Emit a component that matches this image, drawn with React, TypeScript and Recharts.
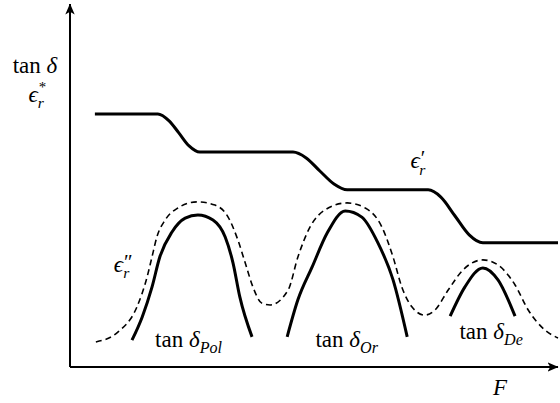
import React from 'react';
import { LineChart, Line, XAxis, YAxis, ReferenceDot } from 'recharts';

// Frequency F on 0..100, response on 0..100 (arbitrary units)
const realF = [5.1, 18.0, 20.3, 22.3, 24.4, 26.6, 45.7, 48.4, 51.2, 54.1, 56.8, 73.4, 76.0, 78.9, 81.8, 84.6, 100];
const realV = [69.7, 69.7, 67.8, 64.5, 60.9, 59.2, 59.2, 57.6, 54.0, 50.4, 48.8, 48.8, 46.8, 41.6, 36.4, 34.2, 34.2];

const lossF = [5.3, 9.8, 13.7, 15.8, 16.8, 17.8, 19.5, 22.1, 26.0, 29.7, 32.4, 34.4, 35.9, 37.5, 39.3, 41.0, 44.7, 46.7, 49.2, 52.3, 56.8, 60.5, 63.9, 66.2, 68.0, 70.1, 72.7, 74.8, 77.5, 80.5, 84.6, 87.7, 91.2, 93.9, 97.3, 100];
const lossV = [6.9, 9.6, 16.5, 24.8, 30.3, 35.8, 40.5, 43.8, 45.5, 44.6, 41.3, 35.0, 28.7, 22.0, 17.6, 17.1, 21.2, 30.3, 38.6, 43.3, 45.2, 43.8, 38.6, 30.3, 22.0, 16.5, 14.3, 15.7, 21.2, 26.7, 29.5, 28.1, 22.6, 15.7, 10.2, 8.0];

const polF = [12.7, 14.8, 16.8, 18.4, 20.9, 23.6, 26.2, 29.3, 31.8, 33.4, 34.8, 37.3];
const polV = [7.4, 13.8, 22.0, 30.3, 37.2, 41.0, 41.9, 40.5, 35.8, 28.7, 19.3, 8.3];

const orF = [44.5, 46.7, 49.6, 52.7, 56.4, 59.8, 63.1, 66.2, 69.1];
const orV = [8.3, 18.5, 27.5, 36.9, 43.0, 41.3, 34.2, 24.0, 8.3];

const deF = [77.9, 80.9, 84.6, 87.7, 91.2];
const deV = [14.0, 22.0, 27.3, 24.0, 14.0];

const toRows = (f: number[], v: number[]) => f.map((x, i) => ({ f: x, v: v[i] }));

const FONT = 'Liberation Serif';
const FS = 23;
const txt = { fontFamily: FONT, fontSize: FS, fill: '#000' };

// tan δ with optional italic subscript, centred on x, baseline y
const TanDelta = ({ x, y, sub }: { x: number; y: number; sub?: string }) => (
  <text x={x} y={y} textAnchor="middle" style={txt}>
    <tspan>tan </tspan>
    <tspan style={{ fontStyle: 'italic' }}>δ</tspan>
    {sub && (
      <tspan style={{ fontStyle: 'italic', fontSize: FS * 0.7 }} dy={FS * 0.28}>
        {sub}
      </tspan>
    )}
  </text>
);

// ϵ with a superscript mark stacked over the subscript r
const Eps = ({ x, y, sup }: { x: number; y: number; sup: string }) => {
  const star = sup === '*';
  const supSize = star ? 0.65 : 0.9;
  const supDy = star ? -0.45 : -0.12;
  const supW = star ? FS * 0.33 + 1 : sup === '″' ? FS * 0.36 + 1 : FS * 0.22 + 1;
  return (
    <text x={x - FS * 0.37} y={y} style={txt}>
      <tspan style={{ fontStyle: 'italic' }}>ϵ</tspan>
      <tspan style={{ fontSize: FS * supSize }} dx={1} dy={FS * supDy}>{sup}</tspan>
      <tspan style={{ fontStyle: 'italic', fontSize: FS * 0.68 }} dx={-supW} dy={FS * (0.28 - supDy)}>r</tspan>
    </text>
  );
};

const dotLabel = (render: (x: number, y: number) => React.ReactNode) => ({
  content: (p: any) => render(p.viewBox.x, p.viewBox.y),
});

export default function App() {
  return (
    <div style={{ position: 'absolute', left: 0, top: 0, background: '#fff' }}>
      <LineChart width={560} height={403} margin={{ top: 4, right: 2, bottom: 0, left: 0 }}>
        <defs>
          <marker
            id="arrowHead"
            viewBox="0 0 11 11"
            refX={10.5}
            refY={5.5}
            markerWidth={11}
            markerHeight={11}
            markerUnits="userSpaceOnUse"
            orient="auto-start-reverse"
          >
            <path d="M0,0.8 L11,5.5 L0,10.2 L2.8,5.5 Z" fill="#000" />
          </marker>
        </defs>
        <XAxis
          type="number"
          dataKey="f"
          domain={[0, 100]}
          height={36}
          tick={false}
          tickLine={false}
          axisLine={{ stroke: '#000', strokeWidth: 2, markerEnd: 'url(#arrowHead)' }}
          label={{
            content: (p: any) => (
              <text
                x={p.viewBox.x + 430}
                y={p.viewBox.y + 28}
                textAnchor="middle"
                style={{ ...txt, fontStyle: 'italic' }}
              >
                F
              </text>
            ),
          }}
        />
        <YAxis
          type="number"
          dataKey="v"
          domain={[0, 100]}
          width={70}
          tick={false}
          tickLine={false}
          axisLine={{ stroke: '#000', strokeWidth: 2, markerStart: 'url(#arrowHead)' }}
          label={{
            content: (p: any) => (
              <g>
                <TanDelta x={p.viewBox.x + 35} y={p.viewBox.y + 69} />
                <Eps x={p.viewBox.x + 37} y={p.viewBox.y + 98} sup="*" />
              </g>
            ),
          }}
        />

        {/* ε'_r, stepped real permittivity */}
        <Line
          data={toRows(realF, realV)}
          dataKey="v"
          type="monotone"
          stroke="#000"
          strokeWidth={3}
          dot={false}
          activeDot={false}
          isAnimationActive={false}
        />
        {/* ε''_r, dashed loss envelope */}
        <Line
          data={toRows(lossF, lossV)}
          dataKey="v"
          type="monotone"
          stroke="#000"
          strokeWidth={1.6}
          strokeDasharray="6 4"
          dot={false}
          activeDot={false}
          isAnimationActive={false}
        />
        {/* individual loss peaks */}
        {[toRows(polF, polV), toRows(orF, orV), toRows(deF, deV)].map((rows, i) => (
          <Line
            key={i}
            data={rows}
            dataKey="v"
            type="monotone"
            stroke="#000"
            strokeWidth={3}
            dot={false}
            activeDot={false}
            isAnimationActive={false}
          />
        ))}

        <ReferenceDot x={24.3} y={5.5} r={0} fill="none" stroke="none"
          label={dotLabel((x, y) => <TanDelta x={x} y={y} sub="Pol" />)} />
        <ReferenceDot x={56.7} y={5.5} r={0} fill="none" stroke="none"
          label={dotLabel((x, y) => <TanDelta x={x} y={y} sub="Or" />)} />
        <ReferenceDot x={86.3} y={7.7} r={0} fill="none" stroke="none"
          label={dotLabel((x, y) => <TanDelta x={x} y={y} sub="De" />)} />
        <ReferenceDot x={71.5} y={54.8} r={0} fill="none" stroke="none"
          label={dotLabel((x, y) => <Eps x={x} y={y} sup="′" />)} />
        <ReferenceDot x={10.7} y={26.2} r={0} fill="none" stroke="none"
          label={dotLabel((x, y) => <Eps x={x} y={y} sup="″" />)} />
      </LineChart>
    </div>
  );
}
